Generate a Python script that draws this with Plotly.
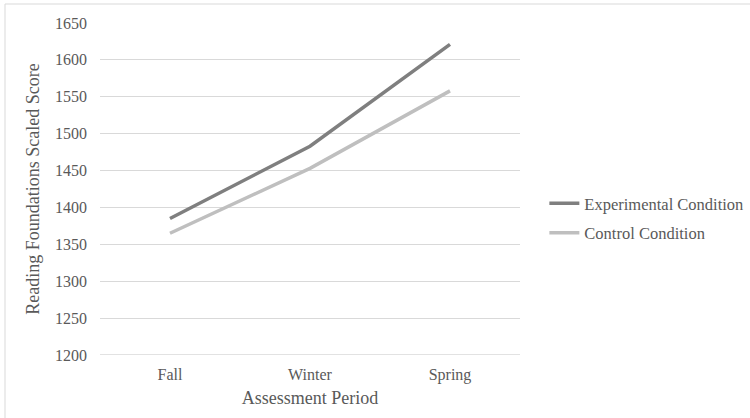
import plotly.graph_objects as go

periods = ["Fall", "Winter", "Spring"]
experimental = [1385, 1483, 1621]
control = [1365, 1453, 1558]
y_ticks = [1200, 1250, 1300, 1350, 1400, 1450, 1500, 1550, 1600, 1650]

W, H = 750, 418
ML, MR, MT, MB = 100, 230, 23, 63
PW = W - ML - MR
PH = H - MT - MB

font_family = "Liberation Serif"
text_color = "#595959"

fig = go.Figure()
fig.add_trace(go.Scatter(x=periods, y=experimental, mode="lines", name="Experimental Condition",
                         legendgroup="exp",
                         line=dict(color="#7f7f7f", width=3.5)))
fig.add_trace(go.Scatter(x=periods, y=control, mode="lines", name="Control Condition",
                         legendgroup="ctl",
                         line=dict(color="#bfbfbf", width=3.5)))

def px_x(p):
    return (p - ML) / PW

def px_y(p):
    return (H - MB - p) / PH

# top and left border lines of the chart frame
fig.add_shape(type="line", xref="paper", yref="paper",
              x0=px_x(5), x1=px_x(750), y0=px_y(4), y1=px_y(4),
              line=dict(color="#d9d9d9", width=1))
fig.add_shape(type="line", xref="paper", yref="paper",
              x0=px_x(5), x1=px_x(5), y0=px_y(4), y1=px_y(418),
              line=dict(color="#d9d9d9", width=1))

fig.update_layout(
    width=W, height=H,
    margin=dict(l=ML, r=MR, t=MT, b=MB, autoexpand=False),
    paper_bgcolor="white", plot_bgcolor="white",
    font=dict(family=font_family, color=text_color, size=16),
    showlegend=True,
    legend=dict(x=1.058, y=px_y(218), xanchor="left", yanchor="middle",
                font=dict(family=font_family, size=16.5, color=text_color),
                bgcolor="rgba(0,0,0,0)", tracegroupgap=5),
    xaxis=dict(
        type="category", range=[-0.5, 2.5],
        showgrid=False, zeroline=False, showline=False,
        ticks="", ticklabelstandoff=8,
        title=dict(text="Assessment Period", font=dict(size=18, color=text_color), standoff=8),
    ),
    yaxis=dict(
        range=[1200, 1650], tickvals=y_ticks,
        showgrid=True, gridcolor="#d9d9d9", gridwidth=1,
        zeroline=False, showline=False, ticks="", ticklabelstandoff=12,
        title=dict(text="Reading Foundations Scaled Score", font=dict(size=18, color=text_color), standoff=10),
    ),
)
fig.add_hline(y=1200, line=dict(color="#d9d9d9", width=1.5))

fig.write_html("out.html", config={"displayModeBar": False},
               post_script="document.body.style.margin='0';")
